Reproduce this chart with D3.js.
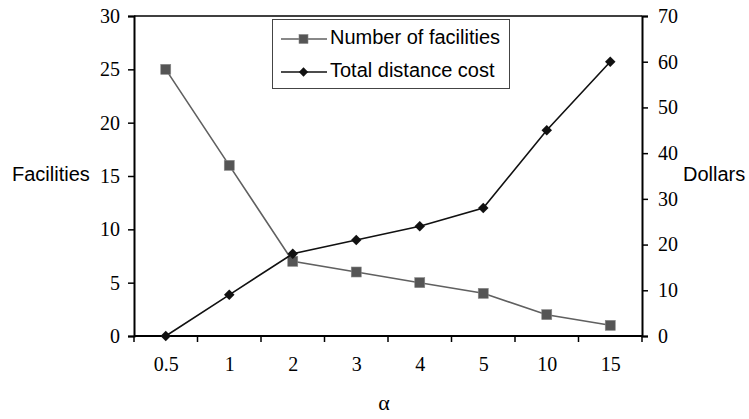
<!DOCTYPE html>
<html>
<head>
<meta charset="utf-8">
<script src="https://cdn.jsdelivr.net/npm/d3@7"></script>
<style>
  html, body { margin: 0; padding: 0; background: #fff; }
  svg { display: block; }
  .serif { font-family: "Liberation Serif", "Times New Roman", "DejaVu Serif", serif; }
  .sans { font-family: "Liberation Sans", Arial, "DejaVu Sans", sans-serif; }
</style>
</head>
<body>
<svg id="chart" width="749" height="419"></svg>
<script>
const categories = ["0.5", "1", "2", "3", "4", "5", "10", "15"];
const facilities = [25, 16, 7, 6, 5, 4, 2, 1];
const distanceCost = [0, 9, 18, 21, 24, 28, 45, 60];
const leftTicks = [0, 5, 10, 15, 20, 25, 30];
const rightTicks = [0, 10, 20, 30, 40, 50, 60, 70];
const seriesNames = ["Number of facilities", "Total distance cost"];

const svg = d3.select("#chart");
const m = { left: 134, right: 642, top: 16, bottom: 336 };

const xBand = d3.scaleBand().domain(categories).range([m.left, m.right]).padding(0);
const xPt = d3.scalePoint().domain(categories).range([m.left, m.right]).padding(0.5);
const yL = d3.scaleLinear().domain([0, 30]).range([m.bottom, m.top]);
const yR = d3.scaleLinear().domain([0, 70]).range([m.bottom, m.top]);

// top border
svg.append("line").attr("x1", m.left).attr("x2", m.right)
  .attr("y1", m.top).attr("y2", m.top).attr("stroke", "#000").attr("stroke-width", 1.5);

// left axis
const gL = svg.append("g").attr("transform", `translate(${m.left},0)`)
  .call(d3.axisLeft(yL).tickValues(leftTicks).tickSize(6).tickPadding(8));
// right axis
const gR = svg.append("g").attr("transform", `translate(${m.right},0)`)
  .call(d3.axisRight(yR).tickValues(rightTicks).tickSize(6).tickPadding(10));
// bottom axis (labels at band centers)
const gB = svg.append("g").attr("transform", `translate(0,${m.bottom})`)
  .call(d3.axisBottom(xPt).tickSize(0).tickPadding(21));
// tick marks at band edges
const edges = categories.map(c => xBand(c)).concat([xBand(categories[categories.length - 1]) + xBand.bandwidth()]);
svg.append("g").selectAll("line").data(edges).join("line")
  .attr("x1", d => d).attr("x2", d => d)
  .attr("y1", m.bottom).attr("y2", m.bottom + 6)
  .attr("stroke", "#000").attr("stroke-width", 1.5);

[gL, gR, gB].forEach(g => {
  g.attr("font-family", null).attr("font-size", null);
  g.select(".domain").attr("stroke", "#000").attr("stroke-width", 2);
  g.selectAll(".tick line").attr("stroke", "#000").attr("stroke-width", 1.5);
  g.selectAll(".tick text").attr("class", "serif").style("font-size", "20px").attr("fill", "#000");
});
gB.select(".domain").attr("d", `M${m.left},0H${m.right}`);

// axis titles
svg.append("text").attr("class", "sans").attr("x", 12).attr("y", (m.top + m.bottom) / 2)
  .attr("dominant-baseline", "middle").style("font-size", "20px")
  .text("Facilities");
svg.append("text").attr("class", "sans").attr("x", 683).attr("y", (m.top + m.bottom) / 2)
  .attr("dominant-baseline", "middle").style("font-size", "20px")
  .text("Dollars");
svg.append("text").attr("class", "serif").attr("x", 384).attr("y", 405)
  .attr("text-anchor", "middle").attr("dominant-baseline", "middle")
  .style("font-size", "22px").text("α");

// series 1: facilities
const lineL = d3.line().x((d, i) => xPt(categories[i])).y(d => yL(d));
svg.append("path").datum(facilities).attr("d", lineL)
  .attr("fill", "none").attr("stroke", "#606060").attr("stroke-width", 1.6);
svg.append("g").selectAll("rect").data(facilities).join("rect")
  .attr("x", (d, i) => xPt(categories[i]) - 5).attr("y", d => yL(d) - 5)
  .attr("width", 10).attr("height", 10)
  .attr("fill", "#555").attr("stroke", "#888").attr("stroke-width", 0.6);

// series 2: distance cost
const lineR = d3.line().x((d, i) => xPt(categories[i])).y(d => yR(d));
svg.append("path").datum(distanceCost).attr("d", lineR)
  .attr("fill", "none").attr("stroke", "#111").attr("stroke-width", 1.6);
const diamond = d3.symbol().type(d3.symbolDiamond2 || d3.symbolDiamond).size(70);
svg.append("g").selectAll("path").data(distanceCost).join("path")
  .attr("d", diamond)
  .attr("transform", (d, i) => `translate(${xPt(categories[i])},${yR(d)})`)
  .attr("fill", "#111");

// legend
const lg = svg.append("g");
lg.append("rect").attr("x", 272.5).attr("y", 19.5).attr("width", 237).attr("height", 69)
  .attr("fill", "#fff").attr("stroke", "#444").attr("stroke-width", 1);
const rows = [39, 72];
seriesNames.forEach((name, i) => {
  const y = rows[i];
  lg.append("line").attr("x1", 281).attr("x2", 327).attr("y1", y).attr("y2", y)
    .attr("stroke", i === 0 ? "#606060" : "#111").attr("stroke-width", 1.6);
  if (i === 0) {
    lg.append("rect").attr("x", 299).attr("y", y - 4.5).attr("width", 9).attr("height", 9)
      .attr("fill", "#555").attr("stroke", "#888").attr("stroke-width", 0.6);
  } else {
    lg.append("path").attr("d", d3.symbol().type(d3.symbolDiamond2 || d3.symbolDiamond).size(55)())
      .attr("transform", `translate(303.5,${y})`).attr("fill", "#111");
  }
  lg.append("text").attr("class", "sans").attr("x", 330).attr("y", y).attr("dominant-baseline", "middle")
    .style("font-size", "20px").text(name);
});
</script>
</body>
</html>
